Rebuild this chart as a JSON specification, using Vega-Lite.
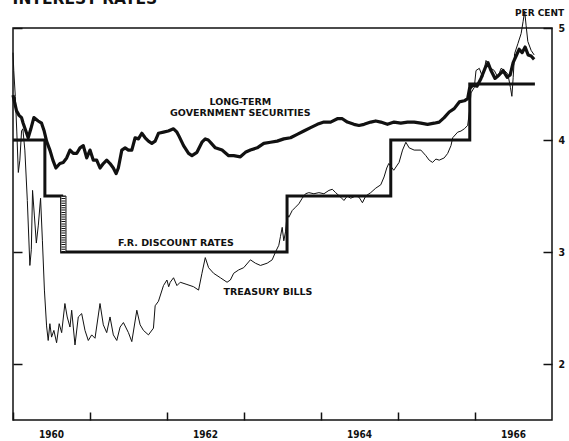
{
  "$schema": "https://vega.github.io/schema/vega-lite/v6.json",
  "width": 539,
  "height": 392,
  "autosize": {"type": "none"},
  "padding": {"left": 13, "top": 28, "right": 17, "bottom": 21},
  "background": "white",
  "config": {
    "view": {"stroke": "#111", "strokeWidth": 1.5},
    "font": "DejaVu Sans",
    "axis": {"labelFont": "DejaVu Sans Condensed, DejaVu Sans", "titleFont": "DejaVu Sans"}
  },
  "datasets": {
    "tbill": [
      {"t":1960.000,"v":4.78},{"t":1960.010,"v":4.62},{"t":1960.030,"v":4.39},{"t":1960.049,"v":4.08},{"t":1960.069,"v":3.71},{"t":1960.089,"v":3.82},{"t":1960.111,"v":4.08},{"t":1960.128,"v":4.10},{"t":1960.154,"v":3.91},{"t":1960.186,"v":3.46},{"t":1960.219,"v":2.88},{"t":1960.238,"v":3.02},{"t":1960.254,"v":3.55},{"t":1960.277,"v":3.33},{"t":1960.303,"v":3.08},{"t":1960.329,"v":3.24},{"t":1960.358,"v":3.48},{"t":1960.382,"v":3.10},{"t":1960.408,"v":2.66},{"t":1960.436,"v":2.34},{"t":1960.457,"v":2.21},{"t":1960.479,"v":2.36},{"t":1960.501,"v":2.24},{"t":1960.531,"v":2.30},{"t":1960.566,"v":2.19},{"t":1960.600,"v":2.36},{"t":1960.632,"v":2.28},{"t":1960.674,"v":2.54},{"t":1960.704,"v":2.42},{"t":1960.740,"v":2.33},{"t":1960.762,"v":2.48},{"t":1960.805,"v":2.17},{"t":1960.848,"v":2.42},{"t":1960.892,"v":2.45},{"t":1960.935,"v":2.30},{"t":1960.978,"v":2.21},{"t":1961.022,"v":2.26},{"t":1961.065,"v":2.23},{"t":1961.130,"v":2.54},{"t":1961.173,"v":2.35},{"t":1961.217,"v":2.28},{"t":1961.260,"v":2.42},{"t":1961.303,"v":2.26},{"t":1961.348,"v":2.21},{"t":1961.391,"v":2.33},{"t":1961.434,"v":2.37},{"t":1961.499,"v":2.28},{"t":1961.543,"v":2.20},{"t":1961.608,"v":2.48},{"t":1961.651,"v":2.35},{"t":1961.694,"v":2.30},{"t":1961.759,"v":2.26},{"t":1961.824,"v":2.32},{"t":1961.846,"v":2.52},{"t":1961.889,"v":2.56},{"t":1961.954,"v":2.70},{"t":1961.999,"v":2.75},{"t":1962.022,"v":2.69},{"t":1962.042,"v":2.73},{"t":1962.085,"v":2.77},{"t":1962.129,"v":2.70},{"t":1962.172,"v":2.73},{"t":1962.259,"v":2.71},{"t":1962.345,"v":2.69},{"t":1962.410,"v":2.66},{"t":1962.454,"v":2.81},{"t":1962.497,"v":2.95},{"t":1962.540,"v":2.86},{"t":1962.605,"v":2.81},{"t":1962.693,"v":2.77},{"t":1962.780,"v":2.73},{"t":1962.823,"v":2.75},{"t":1962.866,"v":2.81},{"t":1962.931,"v":2.84},{"t":1962.996,"v":2.86},{"t":1963.083,"v":2.93},{"t":1963.148,"v":2.90},{"t":1963.214,"v":2.88},{"t":1963.301,"v":2.90},{"t":1963.366,"v":2.93},{"t":1963.409,"v":3.00},{"t":1963.452,"v":3.06},{"t":1963.474,"v":3.14},{"t":1963.496,"v":3.22},{"t":1963.517,"v":3.10},{"t":1963.539,"v":3.18},{"t":1963.561,"v":3.34},{"t":1963.582,"v":3.31},{"t":1963.626,"v":3.37},{"t":1963.669,"v":3.40},{"t":1963.712,"v":3.43},{"t":1963.756,"v":3.48},{"t":1963.799,"v":3.52},{"t":1963.842,"v":3.53},{"t":1963.908,"v":3.52},{"t":1963.973,"v":3.53},{"t":1964.038,"v":3.52},{"t":1964.103,"v":3.55},{"t":1964.147,"v":3.56},{"t":1964.190,"v":3.53},{"t":1964.255,"v":3.49},{"t":1964.298,"v":3.46},{"t":1964.342,"v":3.50},{"t":1964.385,"v":3.48},{"t":1964.451,"v":3.50},{"t":1964.493,"v":3.49},{"t":1964.538,"v":3.44},{"t":1964.581,"v":3.50},{"t":1964.646,"v":3.53},{"t":1964.711,"v":3.57},{"t":1964.776,"v":3.60},{"t":1964.819,"v":3.67},{"t":1964.854,"v":3.75},{"t":1964.880,"v":3.79},{"t":1964.945,"v":3.73},{"t":1965.014,"v":3.80},{"t":1965.059,"v":3.91},{"t":1965.102,"v":3.98},{"t":1965.145,"v":3.93},{"t":1965.210,"v":3.91},{"t":1965.297,"v":3.91},{"t":1965.362,"v":3.86},{"t":1965.405,"v":3.82},{"t":1965.449,"v":3.80},{"t":1965.492,"v":3.83},{"t":1965.535,"v":3.82},{"t":1965.600,"v":3.84},{"t":1965.645,"v":3.88},{"t":1965.688,"v":3.95},{"t":1965.710,"v":4.02},{"t":1965.775,"v":4.07},{"t":1965.818,"v":4.08},{"t":1965.861,"v":4.10},{"t":1965.905,"v":4.13},{"t":1965.929,"v":4.26},{"t":1965.948,"v":4.42},{"t":1965.991,"v":4.47},{"t":1966.013,"v":4.62},{"t":1966.056,"v":4.64},{"t":1966.100,"v":4.56},{"t":1966.143,"v":4.71},{"t":1966.208,"v":4.64},{"t":1966.251,"v":4.62},{"t":1966.296,"v":4.56},{"t":1966.339,"v":4.64},{"t":1966.382,"v":4.62},{"t":1966.426,"v":4.59},{"t":1966.460,"v":4.47},{"t":1966.479,"v":4.39},{"t":1966.496,"v":4.56},{"t":1966.514,"v":4.77},{"t":1966.557,"v":4.86},{"t":1966.599,"v":4.95},{"t":1966.625,"v":5.06},{"t":1966.645,"v":5.15},{"t":1966.664,"v":5.02},{"t":1966.686,"v":4.88},{"t":1966.729,"v":4.80},{"t":1966.768,"v":4.76}
    ],
    "longterm": [
      {"t":1960.000,"v":4.40},{"t":1960.046,"v":4.26},{"t":1960.079,"v":4.22},{"t":1960.111,"v":4.20},{"t":1960.132,"v":4.15},{"t":1960.167,"v":4.08},{"t":1960.197,"v":4.02},{"t":1960.232,"v":4.10},{"t":1960.271,"v":4.20},{"t":1960.327,"v":4.17},{"t":1960.371,"v":4.15},{"t":1960.405,"v":4.08},{"t":1960.436,"v":3.99},{"t":1960.479,"v":3.91},{"t":1960.518,"v":3.82},{"t":1960.557,"v":3.75},{"t":1960.609,"v":3.79},{"t":1960.652,"v":3.80},{"t":1960.697,"v":3.84},{"t":1960.740,"v":3.91},{"t":1960.783,"v":3.88},{"t":1960.827,"v":3.88},{"t":1960.870,"v":3.93},{"t":1960.913,"v":3.95},{"t":1960.957,"v":3.84},{"t":1961.000,"v":3.91},{"t":1961.043,"v":3.82},{"t":1961.087,"v":3.82},{"t":1961.130,"v":3.75},{"t":1961.173,"v":3.79},{"t":1961.217,"v":3.82},{"t":1961.260,"v":3.79},{"t":1961.303,"v":3.75},{"t":1961.339,"v":3.70},{"t":1961.368,"v":3.75},{"t":1961.413,"v":3.91},{"t":1961.456,"v":3.93},{"t":1961.499,"v":3.91},{"t":1961.543,"v":3.91},{"t":1961.586,"v":4.02},{"t":1961.629,"v":4.01},{"t":1961.673,"v":4.06},{"t":1961.716,"v":4.02},{"t":1961.759,"v":3.99},{"t":1961.803,"v":3.97},{"t":1961.846,"v":3.99},{"t":1961.889,"v":4.06},{"t":1961.954,"v":4.07},{"t":1962.016,"v":4.08},{"t":1962.085,"v":4.10},{"t":1962.129,"v":4.07},{"t":1962.159,"v":4.03},{"t":1962.215,"v":3.95},{"t":1962.280,"v":3.88},{"t":1962.324,"v":3.86},{"t":1962.389,"v":3.89},{"t":1962.454,"v":3.98},{"t":1962.497,"v":4.01},{"t":1962.536,"v":4.00},{"t":1962.576,"v":3.97},{"t":1962.628,"v":3.93},{"t":1962.715,"v":3.91},{"t":1962.801,"v":3.86},{"t":1962.866,"v":3.86},{"t":1962.953,"v":3.85},{"t":1963.018,"v":3.89},{"t":1963.083,"v":3.91},{"t":1963.171,"v":3.93},{"t":1963.257,"v":3.97},{"t":1963.344,"v":3.98},{"t":1963.431,"v":3.99},{"t":1963.517,"v":4.01},{"t":1963.604,"v":4.02},{"t":1963.691,"v":4.05},{"t":1963.777,"v":4.08},{"t":1963.865,"v":4.11},{"t":1963.952,"v":4.14},{"t":1964.038,"v":4.16},{"t":1964.125,"v":4.16},{"t":1964.212,"v":4.19},{"t":1964.277,"v":4.19},{"t":1964.342,"v":4.16},{"t":1964.428,"v":4.14},{"t":1964.493,"v":4.13},{"t":1964.559,"v":4.14},{"t":1964.646,"v":4.16},{"t":1964.711,"v":4.17},{"t":1964.776,"v":4.16},{"t":1964.863,"v":4.14},{"t":1964.949,"v":4.16},{"t":1965.036,"v":4.15},{"t":1965.124,"v":4.16},{"t":1965.210,"v":4.16},{"t":1965.297,"v":4.15},{"t":1965.384,"v":4.14},{"t":1965.470,"v":4.15},{"t":1965.535,"v":4.16},{"t":1965.600,"v":4.20},{"t":1965.665,"v":4.25},{"t":1965.730,"v":4.28},{"t":1965.796,"v":4.34},{"t":1965.861,"v":4.35},{"t":1965.905,"v":4.37},{"t":1965.929,"v":4.46},{"t":1965.974,"v":4.49},{"t":1966.026,"v":4.48},{"t":1966.078,"v":4.55},{"t":1966.130,"v":4.64},{"t":1966.169,"v":4.69},{"t":1966.208,"v":4.62},{"t":1966.260,"v":4.55},{"t":1966.313,"v":4.58},{"t":1966.365,"v":4.62},{"t":1966.417,"v":4.56},{"t":1966.456,"v":4.58},{"t":1966.495,"v":4.69},{"t":1966.534,"v":4.75},{"t":1966.573,"v":4.81},{"t":1966.612,"v":4.78},{"t":1966.651,"v":4.83},{"t":1966.690,"v":4.76},{"t":1966.729,"v":4.75},{"t":1966.768,"v":4.72}
    ],
    "discount": [
      {"t":1960.000,"v":4.0},{"t":1960.414,"v":3.5},{"t":1960.632,"v":3.0},{"t":1963.559,"v":3.5},{"t":1964.906,"v":4.0},{"t":1965.932,"v":4.5},{"t":1966.778,"v":4.5}
    ],
    "hatch": [
      {"t1":1960.621,"t2":1960.688,"tm":1960.655,"lo":3.0,"hi":3.5}
    ],
    "labels": [
      {"t":1962.953,"v":4.335,"label":"LONG-TERM"},
      {"t":1962.953,"v":4.237,"label":"GOVERNMENT SECURITIES"},
      {"t":1962.116,"v":3.079,"label":"F.R. DISCOUNT RATES"},
      {"t":1963.311,"v":2.643,"label":"TREASURY BILLS"}
    ],
    "heading": [
      {"t":1959.995,"v":5.215,"label":"INTEREST RATES"}
    ]
  },
  "layer": [
    {
      "data": {"name": "tbill"},
      "mark": {"type": "line", "stroke": "#111", "strokeWidth": 1, "clip": false},
      "encoding": {
        "x": {"field": "t", "type": "quantitative",
          "scale": {"domain": [1960, 1967], "nice": false, "zero": false},
          "axis": {"orient": "bottom", "values": [1960, 1961, 1962, 1963, 1964, 1965, 1966], "title": null,
            "domain": false, "grid": false, "ticks": true, "tickSize": -8, "tickWidth": 1.5, "tickColor": "#111",
            "labelExpr": "datum.value % 2 == 0 ? format(datum.value, 'd') : ''",
            "labelOffset": 38, "labelFontSize": 10, "labelFontWeight": "bold", "labelColor": "#111",
            "labelPadding": 17, "labelFlush": false, "labelOverlap": false}},
        "y": {"field": "v", "type": "quantitative",
          "scale": {"domain": [1.5, 5], "nice": false, "zero": false},
          "axis": {"orient": "right", "values": [2, 3, 4, 5], "format": "d",
            "title": "PER CENT", "titleAngle": 0, "titleX": -13, "titleY": -13, "titleAlign": "center",
            "titleBaseline": "alphabetic", "titleFontSize": 9, "titleFontWeight": "bold", "titleColor": "#111",
            "domain": false, "grid": false, "tickSize": -9, "tickWidth": 1.5, "tickColor": "#111",
            "labelFontSize": 10.5, "labelFontWeight": "bold", "labelColor": "#111", "labelPadding": 15,
            "labelFlush": false}}
      }
    },
    {
      "data": {"name": "longterm"},
      "mark": {"type": "line", "stroke": "#111", "strokeWidth": 3.2, "strokeJoin": "round", "clip": false},
      "encoding": {
        "x": {"field": "t", "type": "quantitative", "axis": null},
        "y": {"field": "v", "type": "quantitative",
          "axis": {"orient": "left", "values": [2, 3, 4, 5], "labels": false, "title": null, "domain": false,
            "grid": false, "tickSize": -9, "tickWidth": 1.5, "tickColor": "#111"}}
      }
    },
    {
      "data": {"name": "discount"},
      "mark": {"type": "line", "interpolate": "step-after", "stroke": "#111", "strokeWidth": 3},
      "encoding": {
        "x": {"field": "t", "type": "quantitative", "axis": null},
        "y": {"field": "v", "type": "quantitative", "axis": null}
      }
    },
    {
      "data": {"name": "hatch"},
      "mark": {"type": "rect", "fill": "white", "stroke": "#111", "strokeWidth": 1},
      "encoding": {
        "x": {"field": "t1", "type": "quantitative", "axis": null},
        "x2": {"field": "t2"},
        "y": {"field": "lo", "type": "quantitative", "axis": null},
        "y2": {"field": "hi"}
      }
    },
    {
      "data": {"name": "hatch"},
      "mark": {"type": "rule", "stroke": "#111", "strokeWidth": 4, "strokeDash": [1, 1.3]},
      "encoding": {
        "x": {"field": "tm", "type": "quantitative", "axis": null},
        "y": {"field": "lo", "type": "quantitative", "axis": null},
        "y2": {"field": "hi"}
      }
    },
    {
      "data": {"name": "labels"},
      "mark": {"type": "text", "font": "DejaVu Sans", "fontSize": 9.5, "fontWeight": "bold", "color": "#111",
        "align": "center", "baseline": "middle"},
      "encoding": {
        "x": {"field": "t", "type": "quantitative", "axis": null},
        "y": {"field": "v", "type": "quantitative", "axis": null},
        "text": {"field": "label"}
      }
    },
    {
      "data": {"name": "heading"},
      "mark": {"type": "text", "font": "DejaVu Sans", "fontSize": 15.5, "fontWeight": "bold", "color": "#111",
        "align": "left", "baseline": "alphabetic", "clip": false},
      "encoding": {
        "x": {"field": "t", "type": "quantitative", "axis": null},
        "y": {"field": "v", "type": "quantitative", "axis": null},
        "text": {"field": "label"}
      }
    }
  ],
  "resolve": {"axis": {"x": "independent", "y": "independent"}}
}
